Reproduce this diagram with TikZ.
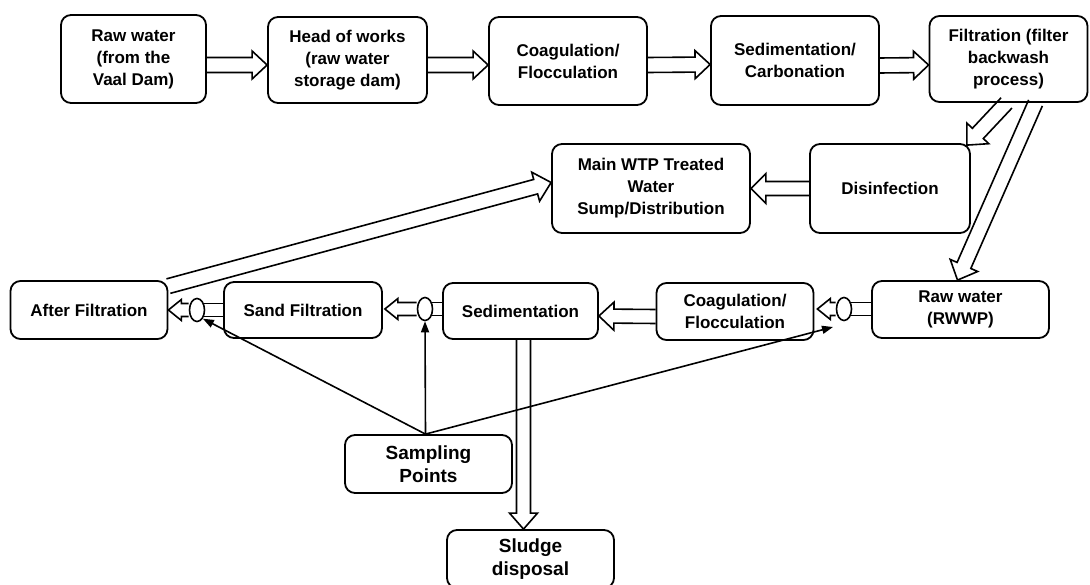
\documentclass[tikz,border=0pt]{standalone}
\usepackage{fontspec}
\setmainfont{Liberation Sans}
\usetikzlibrary{calc,arrows.meta,shapes.geometric}
% block arrow: #1 shaft half width, #2 head half width, #3 head length, #4 from, #5 to
\newcommand{\barrow}[5]{%
  \coordinate (bhtmp) at ($(#5)!#3!(#4)$);
  \draw[conn] ($(#4)!#1!90:(#5)$) -- ($(bhtmp)!#1!90:(#5)$) -- ($(bhtmp)!#2!90:(#5)$) -- (#5) -- ($(bhtmp)!#2!-90:(#5)$) -- ($(bhtmp)!#1!-90:(#5)$) -- ($(#4)!#1!-90:(#5)$);}
\begin{document}
\begin{tikzpicture}[x=1pt,y=-1pt,
  box/.style={draw, line width=1.8pt, rounded corners=10pt, align=center, inner sep=2pt,
    font=\bfseries\fontsize{17}{22}\selectfont},
  bigbox/.style={box, font=\bfseries\fontsize{19}{22.5}\selectfont},
  conn/.style={line width=1.6pt, line join=miter},
  shaft/.style={line width=1.6pt, double=white, double distance=11.4pt},
  valve/.style={ellipse, draw, fill=white, line width=1.6pt, minimum width=15pt, minimum height=23pt, inner sep=0pt},
  samp/.style={line width=1.6pt, -{Triangle[length=11pt,width=8pt]}}]
\fill[white] (0,0) rectangle (1090,585);
\useasboundingbox (0,0) rectangle (1090,585);
\clip (0,0) rectangle (1090,585);
% top row
\node[box, minimum width=145pt, minimum height=88pt] (rw) at (133.5,59) {Raw water\\(from the\\Vaal Dam)};
\node[box, minimum width=159pt, minimum height=86pt] (how) at (347.5,60) {Head of works\\(raw water\\storage dam)};
\node[box, minimum width=158pt, minimum height=88pt] (coag1) at (568,61) {Coagulation/\\Flocculation};
\node[box, minimum width=168pt, minimum height=89pt] (sed1) at (795,60.5) {Sedimentation/\\Carbonation};
\node[box, minimum width=158pt, minimum height=86pt] (filt) at (1008.5,59) {Filtration (filter\\backwash\\process)};
% middle row
\node[box, minimum width=198pt, minimum height=89pt] (main) at (651,188.5) {Main WTP Treated\\Water\\Sump/Distribution};
\node[box, minimum width=160pt, minimum height=89pt] (dis) at (890,188.5) {Disinfection};
% bottom row
\node[box, minimum width=157pt, minimum height=58pt] (af) at (89,310) {After Filtration};
\node[box, minimum width=158pt, minimum height=56pt] (sand) at (303,310) {Sand Filtration};
\node[box, minimum width=155pt, minimum height=56pt] (sed2) at (520.5,311) {Sedimentation};
\node[box, minimum width=157pt, minimum height=57pt] (coag2) at (735,311.5) {Coagulation/\\Flocculation};
\node[box, minimum width=177pt, minimum height=57pt] (rwwp) at (960.5,309.5) {Raw water\\(RWWP)};
\node[bigbox, minimum width=167pt, minimum height=58pt] (sp) at (428.5,464) {Sampling\\Points};
\node[bigbox, minimum width=167pt, minimum height=58pt] (sludge) at (530.5,559) {Sludge\\disposal};
% top row arrows
\coordinate (a1s) at ($(rw.east)+(0,6)$);   \coordinate (a1e) at ($(how.west)+(0,5)$);
\coordinate (a2s) at ($(how.east)+(0,5)$);  \coordinate (a2e) at ($(coag1.west)+(0,4)$);
\coordinate (a3s) at ($(coag1.east)+(0,4)$);\coordinate (a3e) at ($(sed1.west)+(0,4)$);
\coordinate (a4s) at ($(sed1.east)+(0,5)$); \coordinate (a4e) at ($(filt.west)+(0,6)$);
\barrow{7.5pt}{14pt}{15pt}{a1s}{a1e}
\barrow{7.5pt}{14pt}{15pt}{a2s}{a2e}
\barrow{7.5pt}{14pt}{15pt}{a3s}{a3e}
\barrow{7.5pt}{14pt}{15pt}{a4s}{a4e}
% filtration outputs
\coordinate (f1s) at ($(filt.south)+(-2,0)$);
\coordinate (f1e) at ($(dis.north east)+(-4,2)$);
\coordinate (f2s) at ($(filt.south)+(27,0)$);
\coordinate (f2e) at ($(rwwp.north)+(-3,0)$);
\barrow{7.5pt}{15pt}{16pt}{f1s}{f1e}
\barrow{7.5pt}{15pt}{16pt}{f2s}{f2e}
% disinfection to main
\barrow{7pt}{15pt}{15pt}{dis.west}{main.east}
% after filtration to main
\coordinate (ms) at ($(af.north east)+(0,6)$);
\coordinate (me) at ($(main.west)+(0,-6)$);
\barrow{7.5pt}{15pt}{16pt}{ms}{me}
% coag2 to sed2
\coordinate (cs) at ($(coag2.west)+(0,5)$);
\coordinate (ce) at ($(sed2.east)+(0,5)$);
\barrow{7pt}{14pt}{15pt}{cs}{ce}
% valves on bottom row
\coordinate (c1p) at (197,310);
\coordinate (c2p) at (425,309);
\coordinate (c3p) at (844,309);
\draw[shaft] (sand.west |- c1p) -- (c1p);
\draw[shaft] (sed2.west |- c2p) -- (c2p);
\draw[shaft] (rwwp.west |- c3p) -- (c3p);
\node[valve] (c1) at (c1p) {};
\node[valve] (c2) at (c2p) {};
\node[valve] (c3) at (c3p) {};
\coordinate (v1e) at (af.east |- c1p);
\coordinate (v2e) at ($(sand.east |- c2p)+(2,0)$);
\coordinate (v3e) at ($(coag2.east |- c3p)+(3,0)$);
\barrow{6.5pt}{10.5pt}{13pt}{c1.west}{v1e}
\barrow{6.5pt}{10.5pt}{13pt}{c2.west}{v2e}
\barrow{6.5pt}{10.5pt}{13pt}{c3.west}{v3e}
% sludge
\coordinate (ss) at ($(sed2.south)+(3,0)$);
\coordinate (se) at ($(sludge.north)+(-7,0)$);
\barrow{7pt}{14pt}{16pt}{ss}{se}
% sampling lines
\coordinate (spt) at ($(sp.north)+(-3,0)$);
\coordinate (c3tip) at ($(c3)+(-11,18)$);
\draw[samp] (spt) -- (c1.south east);
\draw[samp] (spt) -- (c2.south);
\draw[samp] (spt) -- (c3tip);
\end{tikzpicture}
\end{document}
